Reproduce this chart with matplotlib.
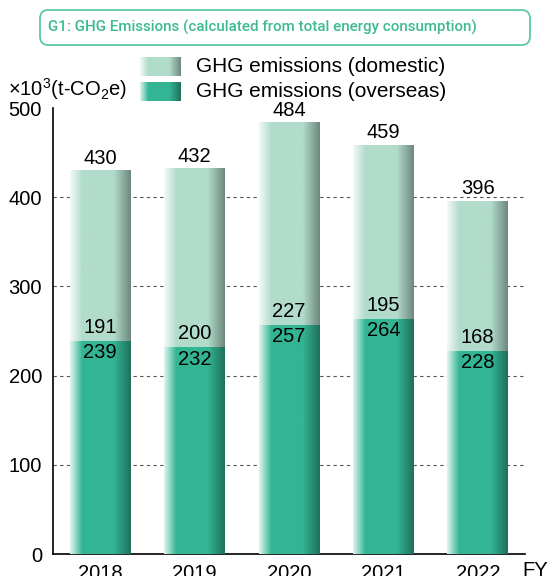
import numpy as np
import matplotlib.pyplot as plt
from matplotlib.patches import FancyBboxPatch
from matplotlib.colors import to_rgb

plt.rcParams['font.family'] = ['Liberation Sans', 'DejaVu Sans']
plt.rcParams['mathtext.fontset'] = 'custom'
plt.rcParams['mathtext.rm'] = 'Liberation Sans'
plt.rcParams['mathtext.it'] = 'Liberation Sans'

years = ['2018', '2019', '2020', '2021', '2022']
overseas = [239, 232, 257, 264, 228]
domestic = [191, 200, 227, 195, 168]
totals = [430, 432, 484, 459, 396]

c_dark = '#33b594'
c_light = '#b1dccb'
c_title = '#3dba93'


def grad(color, n=120):
    # white fade on the left, darker shade on the right
    base = np.array(to_rgb(color))
    t = np.linspace(0, 1, n)
    img = np.tile(base, (n, 1))
    w = np.clip(1 - t / 0.2, 0, 1) * 0.85
    img = img * (1 - w[:, None]) + w[:, None]
    k = np.clip((t - 0.72) / 0.28, 0, 1) * 0.38
    img = img * (1 - k[:, None])
    return img[None, :, :]


fig = plt.figure(figsize=(5.5, 5.76), dpi=100)
ax = fig.add_axes([53 / 550, 1 - 554 / 576, 472 / 550, 446 / 576])

x = np.arange(len(years))
bw = 0.645
b1 = ax.bar(x, overseas, bw, color=c_dark, zorder=2)
b2 = ax.bar(x, domestic, bw, bottom=overseas, color=c_light, zorder=2)

for bars, col in [(b1, c_dark), (b2, c_light)]:
    for p in bars:
        x0, y0 = p.get_x(), p.get_y()
        ax.imshow(grad(col), extent=[x0, x0 + p.get_width(), y0, y0 + p.get_height()],
                  aspect='auto', interpolation='bilinear', zorder=3)

for i in range(len(years)):
    ax.text(x[i], totals[i] + 3, str(totals[i]), ha='center', va='bottom', fontsize=14.5, zorder=5)
    ax.text(x[i], overseas[i] + 4, str(domestic[i]), ha='center', va='bottom', fontsize=14.5, zorder=5)
    ax.text(x[i], overseas[i] - 3, str(overseas[i]), ha='center', va='top', fontsize=14.5, zorder=5)

for yv in [100, 200, 300, 400]:
    ax.axhline(yv, color='#555555', lw=0.8, ls=(0, (3, 3)), zorder=1)

ax.set_xlim(-0.5, 4.5)
ax.set_ylim(0, 500)
ax.set_yticks([0, 100, 200, 300, 400, 500])
ax.set_xticks(x)
ax.set_xticklabels(years)
ax.tick_params(axis='both', length=0, labelsize=14.5)
ax.tick_params(axis='y', pad=8)
ax.tick_params(axis='x', pad=7)
ax.spines['top'].set_visible(False)
ax.spines['right'].set_visible(False)
ax.spines['left'].set_linewidth(1.2)
ax.spines['bottom'].set_linewidth(1.2)

fig.text(522 / 550, 1 - 571 / 576, 'FY', fontsize=14.5, va='center', ha='left')
fig.text(8 / 550, 1 - 89 / 576, r'$\times$10$^3$(t-CO$_2$e)', fontsize=14.5, va='center', ha='left')

# title box
box = FancyBboxPatch((40 / 550, 1 - 45 / 576), 490 / 550, 35 / 576,
                     boxstyle='round,pad=0,rounding_size=0.015',
                     transform=fig.transFigure, fill=False, edgecolor='#5cc9a7', lw=1.3)
fig.patches.append(box)
fig.text(48 / 550, 1 - 27 / 576, 'G1: GHG Emissions (calculated from total energy consumption)',
         fontsize=10.9, color=c_title, va='center', ha='left', fontweight='medium',
         family=['Roboto', 'Liberation Sans'])

# legend
for yy, col, lab in [(57, c_light, 'GHG emissions (domestic)'), (82, c_dark, 'GHG emissions (overseas)')]:
    lax = fig.add_axes([140 / 550, 1 - (yy + 19) / 576, 40 / 550, 19 / 576])
    lax.imshow(grad(col), aspect='auto', interpolation='bilinear')
    lax.axis('off')
    fig.text(196 / 550, 1 - (yy + 9.5) / 576, lab, fontsize=15, va='center', ha='left')

fig.savefig('out.png', dpi=100)
